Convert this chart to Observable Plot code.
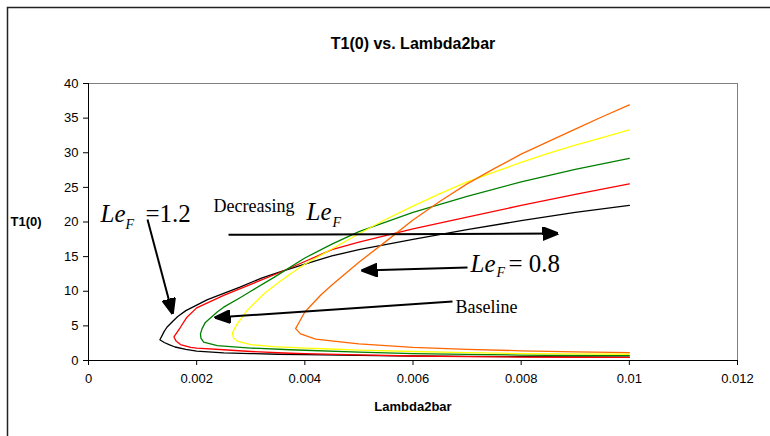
<!DOCTYPE html>
<html>
<head>
<meta charset="utf-8">
<script src="https://cdn.jsdelivr.net/npm/d3@7"></script>
<script src="https://cdn.jsdelivr.net/npm/@observablehq/plot@0.6"></script>
<style>
  html, body { margin: 0; padding: 0; background: #fff; }
</style>
</head>
<body>
<div id="chart"></div>
<script>
// ---- tick labels ----
const xTicks = [0, 0.002, 0.004, 0.006, 0.008, 0.01, 0.012];
const yTicks = [0, 5, 10, 15, 20, 25, 30, 35, 40];

// ---- series (ordered along the curve: lower branch from 0.01 -> turning point -> upper branch to 0.01) ----
const blackLambda = [0.01, 0.009, 0.008, 0.007, 0.006, 0.005, 0.004, 0.0035, 0.003, 0.0025, 0.002, 0.0018, 0.0016, 0.0015, 0.0014, 0.00132, 0.0014, 0.00145, 0.00155, 0.00165, 0.0018, 0.002, 0.0022, 0.0025, 0.0028, 0.0032, 0.0035, 0.004, 0.0045, 0.005, 0.006, 0.007, 0.008, 0.009, 0.01];
const blackT      = [0.5, 0.52, 0.55, 0.6, 0.65, 0.75, 0.85, 0.9, 1.0, 1.1, 1.35, 1.6, 1.95, 2.25, 2.6, 3.0, 4.2, 4.8, 5.6, 6.35, 7.2, 8.0, 8.8, 9.7, 10.6, 11.9, 12.7, 13.9, 15.1, 16.0, 17.5, 18.9, 20.2, 21.4, 22.4];

const redLambda = [0.01, 0.009, 0.008, 0.007, 0.006, 0.005, 0.004, 0.00373, 0.003, 0.0025, 0.002, 0.00189, 0.0017, 0.00162, 0.00158, 0.00163, 0.0017, 0.00182, 0.002, 0.0025, 0.003, 0.0035, 0.004, 0.0045, 0.005, 0.006, 0.007, 0.008, 0.009, 0.01];
const redT      = [0.45, 0.47, 0.5, 0.57, 0.65, 0.8, 1.0, 1.05, 1.3, 1.55, 1.8, 1.9, 2.3, 2.8, 3.4, 4.0, 4.8, 6.25, 7.6, 9.4, 11.0, 12.6, 14.3, 16.0, 17.1, 19.0, 20.7, 22.4, 24.0, 25.5];

const greenLambda = [0.01, 0.009, 0.008, 0.007, 0.006, 0.005, 0.00373, 0.003, 0.00281, 0.00238, 0.00213, 0.00208, 0.00207, 0.0021, 0.00216, 0.00238, 0.0025, 0.00281, 0.003, 0.00343, 0.004, 0.0045, 0.005, 0.006, 0.007, 0.008, 0.009, 0.01];
const greenT      = [0.7, 0.72, 0.78, 0.88, 1.0, 1.2, 1.55, 1.8, 1.9, 2.16, 2.65, 3.2, 3.85, 4.6, 5.5, 7.0, 7.7, 9.1, 10.0, 12.0, 14.8, 16.8, 18.6, 21.4, 23.7, 25.8, 27.6, 29.2];

const yellowLambda = [0.01, 0.009, 0.008, 0.007, 0.006, 0.005, 0.00435, 0.004, 0.00343, 0.003, 0.00275, 0.00268, 0.00266, 0.0027, 0.00275, 0.00293, 0.00324, 0.0035, 0.00373, 0.004, 0.0045, 0.005, 0.0055, 0.006, 0.0065, 0.007, 0.0075, 0.008, 0.0085, 0.009, 0.0095, 0.01];
const yellowT      = [0.9, 0.95, 1.0, 1.15, 1.3, 1.5, 1.7, 1.8, 2.0, 2.3, 2.8, 3.3, 3.95, 4.6, 5.3, 7.2, 9.6, 11.2, 12.5, 13.9, 16.1, 18.3, 20.4, 22.3, 24.1, 25.8, 27.2, 28.6, 29.9, 31.1, 32.2, 33.3];

const orangeLambda = [0.01, 0.009, 0.008, 0.007, 0.006, 0.005, 0.0047, 0.0042, 0.00392, 0.00383, 0.0039, 0.004, 0.0043, 0.0045, 0.005, 0.0055, 0.006, 0.0065, 0.007, 0.0075, 0.008, 0.0085, 0.009, 0.0095, 0.01];
const orangeT      = [1.15, 1.25, 1.4, 1.6, 1.9, 2.4, 2.65, 3.1, 3.85, 4.6, 5.6, 7.0, 9.5, 10.9, 14.2, 17.2, 20.3, 23.0, 25.5, 27.7, 29.8, 31.6, 33.4, 35.2, 36.9];

const seriesNames  = ["black", "red", "green", "yellow", "orange"];
const seriesColors = ["#000000", "#FF0000", "#008000", "#FFFF00", "#FF6600"];

// ---- annotations (data coordinates) ----
const arrowX1 = [0.001091, 0.002589, 0.007008, 0.00673];
const arrowY1 = [20.36, 18.15, 13.43, 8.52];
const arrowX2 = [0.001553, 0.008672, 0.005066, 0.002348];
const arrowY2 = [6.79, 18.34, 13.0, 6.21];

const leText = ["Le", "Le", "Le"];
const leX    = [0.000222, 0.004031, 0.007063];
const leY    = [19.93, 20.22, 12.75];
const subText = ["F", "F", "F"];
const subX    = [0.000684, 0.004512, 0.007544];
const subY    = [19.06, 19.35, 11.99];
const plainText = ["=1.2", "= 0.8"];
const plainX    = [0.001054, 0.007766];
const plainY    = [19.93, 12.75];
const wordText = ["Decreasing", "Baseline"];
const wordX    = [0.002311, 0.006786];
const wordY    = [21.41, 6.79];

const titleText = "T1(0) vs. Lambda2bar";
const xLabel = "Lambda2bar";
const yLabel = "T1(0)";

// ---- build tables ----
const lambdaArrays = [blackLambda, redLambda, greenLambda, yellowLambda, orangeLambda];
const tArrays = [blackT, redT, greenT, yellowT, orangeT];
const seriesData = seriesNames.map((name, s) =>
  lambdaArrays[s].map((l, i) => ({series: name, lambda: l, t: tArrays[s][i]}))
);
const arrows = arrowX1.map((x1, i) => ({x1, y1: arrowY1[i], x2: arrowX2[i], y2: arrowY2[i]}));
const zip = (t, x, y) => t.map((s, i) => ({text: s, x: x[i], y: y[i]}));

const serif = "'Liberation Serif', 'Times New Roman', serif";
const sans = "'Liberation Sans', Arial, sans-serif";

function triangleHead(color) {
  const m = d3.create("svg:marker")
    .attr("viewBox", "-15 -7 16 14")
    .attr("markerWidth", 16)
    .attr("markerHeight", 14)
    .attr("markerUnits", "userSpaceOnUse")
    .attr("refX", 0)
    .attr("refY", 0)
    .attr("orient", "auto");
  m.append("path").attr("d", "M-15,-6.5L1,0L-15,6.5Z").attr("fill", color);
  return m.node();
}

const fmt = d => d === 0 ? "0" : String(+d.toFixed(3));

const chart = Plot.plot({
  width: 770,
  height: 436,
  marginLeft: 88,
  marginRight: 33,
  marginTop: 83,
  marginBottom: 76,
  style: {fontFamily: sans, fontSize: "13px", background: "#fff", color: "#000", overflow: "visible"},
  x: {domain: [0, 0.012], ticks: xTicks, tickFormat: fmt, label: null},
  y: {domain: [0, 40], ticks: yTicks, label: null},
  marks: [
    Plot.frame({stroke: "#808080"}),
    Plot.axisX({ticks: xTicks, tickFormat: fmt, tickSize: 5, tickPadding: 8, fontSize: 13, label: null}),
    Plot.axisY({ticks: yTicks, tickSize: 5, tickPadding: 5, fontSize: 13, label: null}),
    Plot.ruleX([0], {stroke: "#000"}),
    Plot.ruleY([0], {stroke: "#000"}),
    ...seriesData.map((d, s) => Plot.line(d, {x: "lambda", y: "t", stroke: seriesColors[s], strokeWidth: 1.3})),
    Plot.link(arrows, {x1: "x1", y1: "y1", x2: "x2", y2: "y2", stroke: "#000", strokeWidth: 2, markerEnd: triangleHead}),
    Plot.text(zip(leText, leX, leY), {x: "x", y: "y", text: "text", textAnchor: "start", lineAnchor: "bottom", fontFamily: serif, fontStyle: "italic", fontSize: 25}),
    Plot.text(zip(subText, subX, subY), {x: "x", y: "y", text: "text", textAnchor: "start", lineAnchor: "bottom", fontFamily: serif, fontStyle: "italic", fontSize: 14}),
    Plot.text(zip(plainText, plainX, plainY), {x: "x", y: "y", text: "text", textAnchor: "start", lineAnchor: "bottom", fontFamily: serif, fontSize: 25}),
    Plot.text(zip(wordText, wordX, wordY), {x: "x", y: "y", text: "text", textAnchor: "start", lineAnchor: "bottom", fontFamily: serif, fontSize: 18}),
    Plot.text([titleText], {frameAnchor: "top", dy: -46, fontFamily: sans, fontWeight: "bold", fontSize: 16}),
    Plot.text([xLabel], {frameAnchor: "bottom", dy: 50, fontFamily: sans, fontWeight: "bold", fontSize: 13}),
    Plot.text([yLabel], {frameAnchor: "left", dx: -78, textAnchor: "start", fontFamily: sans, fontWeight: "bold", fontSize: 13})
  ]
});

// outer chart-area border (top and left edges visible in the reference)
d3.select(chart).append("path")
  .attr("d", "M7.5,436V7.5H770")
  .attr("fill", "none")
  .attr("stroke", "#222")
  .attr("stroke-width", 1.5);

document.getElementById("chart").append(chart);
</script>
</body>
</html>
